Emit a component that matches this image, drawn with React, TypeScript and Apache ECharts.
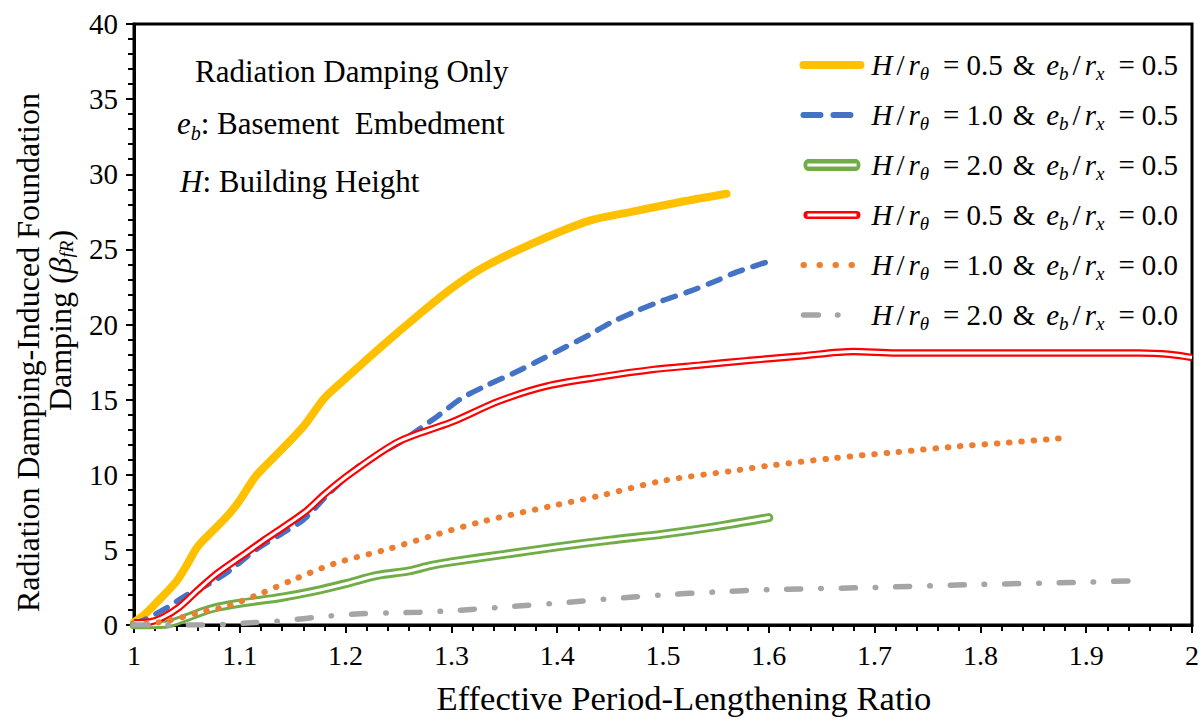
import React, { useEffect, useRef } from 'react';
import * as echarts from 'echarts';

// ---------- data ----------
const xTicks = [1, 1.1, 1.2, 1.3, 1.4, 1.5, 1.6, 1.7, 1.8, 1.9, 2];

const hVals = ['0.5', '1.0', '2.0', '0.5', '1.0', '2.0'];
const eVals = ['0.5', '0.5', '0.5', '0.0', '0.0', '0.0'];

// H/r = 0.5 & e/r = 0.5
const xA = [1.0, 1.01, 1.02, 1.04, 1.05, 1.06, 1.075, 1.09, 1.10, 1.115, 1.13, 1.16, 1.18, 1.20, 1.235, 1.27, 1.30, 1.33, 1.38, 1.43, 1.47, 1.52, 1.56];
const yA = [0.2, 0.7, 1.4, 2.9, 4.0, 5.2, 6.3, 7.4, 8.3, 9.9, 11.0, 13.2, 15.1, 16.4, 18.6, 20.7, 22.4, 23.8, 25.5, 26.9, 27.5, 28.2, 28.7];
// H/r = 1.0 & e/r = 0.5
const xB = [1.0, 1.01, 1.03, 1.05, 1.07, 1.09, 1.115, 1.14, 1.16, 1.185, 1.215, 1.25, 1.285, 1.31, 1.335, 1.36, 1.38, 1.405, 1.43, 1.45, 1.475, 1.50, 1.525, 1.55, 1.57, 1.60];
const yB = [0.1, 0.35, 1.1, 2.0, 2.7, 3.6, 5.0, 6.1, 7.0, 8.8, 10.7, 12.1, 13.8, 15.1, 16.0, 16.8, 17.5, 18.4, 19.3, 20.1, 20.9, 21.6, 22.2, 22.9, 23.5, 24.2];
// H/r = 2.0 & e/r = 0.5
const xC = [1.0, 1.03, 1.05, 1.065, 1.08, 1.10, 1.14, 1.17, 1.20, 1.23, 1.26, 1.28, 1.30, 1.35, 1.40, 1.45, 1.50, 1.55, 1.60];
const yC = [0.0, 0.05, 0.5, 0.9, 1.2, 1.45, 1.85, 2.25, 2.75, 3.3, 3.6, 3.95, 4.2, 4.7, 5.2, 5.65, 6.05, 6.55, 7.15];
// H/r = 0.5 & e/r = 0.0
const xD = [1.0, 1.015, 1.027, 1.043, 1.06, 1.078, 1.10, 1.122, 1.141, 1.163, 1.18, 1.205, 1.25, 1.30, 1.345, 1.39, 1.44, 1.49, 1.535, 1.58, 1.63, 1.68, 1.72, 1.80, 1.90, 1.95, 1.98, 2.0];
const yD = [0.15, 0.2, 0.5, 1.2, 2.3, 3.4, 4.5, 5.6, 6.5, 7.6, 8.7, 10.1, 12.2, 13.5, 14.9, 15.9, 16.5, 17.0, 17.3, 17.6, 17.9, 18.2, 18.1, 18.1, 18.1, 18.1, 18.0, 17.8];
// H/r = 1.0 & e/r = 0.0
const xE = [1.0, 1.03, 1.06, 1.09, 1.12, 1.15, 1.19, 1.24, 1.28, 1.33, 1.40, 1.44, 1.50, 1.57, 1.60, 1.66, 1.72, 1.78, 1.82, 1.88];
const yE = [0.0, 0.25, 0.8, 1.3, 2.1, 3.0, 4.1, 5.05, 5.9, 6.9, 8.0, 8.6, 9.6, 10.3, 10.6, 11.1, 11.5, 11.9, 12.1, 12.45];
// H/r = 2.0 & e/r = 0.0
const xF = [1.0, 1.05, 1.09, 1.11, 1.135, 1.185, 1.214, 1.24, 1.27, 1.30, 1.35, 1.40, 1.45, 1.50, 1.55, 1.60, 1.70, 1.80, 1.90, 1.946];
const yF = [0.0, 0.0, 0.05, 0.15, 0.25, 0.6, 0.75, 0.8, 0.85, 0.95, 1.2, 1.45, 1.75, 2.0, 2.2, 2.35, 2.5, 2.7, 2.85, 2.95];

const annotations = ['Radiation Damping Only', '{i|e}{sb|b}: Basement  Embedment', '{i|H}: Building Height'];

// ---------- helpers ----------
const SERIF = '"Liberation Serif", "Times New Roman", serif';
const zip = (xs: number[], ys: number[]) => xs.map((x, i) => [x, ys[i]]);
const names = hVals.map((h, i) => `H/rθ = ${h} & eb/rx = ${eVals[i]}`);
const richNames = hVals.map(
  (h, i) =>
    `{i|H}{s|/}{i|r}{sb|θ}{eq|=}{n|${h}}{amp|&}{i|e}{sb|b}{s|/}{i|r}{sb|x}{eq|=}{n|${eVals[i]}}`
);

const colors = ['#FFC000', '#4472C4', '#70AD47', '#FF0000', '#ED7D31', '#A5A5A5'];

const greenIcon =
  'path://M6,0 H51 A6,6 0 0 1 51,11 H6 A6,6 0 0 1 6,0 Z M6,4.2 V6.8 H51 V4.2 Z';
const redIcon =
  'path://M4,0 H53 A4,4 0 0 1 53,8 H4 A4,4 0 0 1 4,0 Z M4,2.6 V5.4 H53 V2.6 Z';

export default function App() {
  const ref = useRef<HTMLDivElement>(null);
  useEffect(() => {
    const chart = echarts.init(ref.current!, null, { renderer: 'svg' });
    const base = { type: 'line', showSymbol: false, symbol: 'none', smooth: 0.3, silent: true };
    const FS = 29;
    const hidden = { opacity: 0, color: 'rgba(0,0,0,0)', borderWidth: 0 };
    const option: any = {
      animation: false,
      backgroundColor: '#fff',
      grid: { left: 134, right: 11, top: 24, bottom: 92, show: true, borderColor: '#000', borderWidth: 3 },
      xAxis: {
        type: 'value',
        min: 1,
        max: 2,
        interval: 0.1,
        name: 'Effective Period-Lengthening Ratio',
        nameLocation: 'middle',
        nameGap: 55,
        nameTextStyle: { fontFamily: SERIF, fontSize: 34.6, color: '#000', padding: [0, 0, 0, 42] },
        axisLine: { lineStyle: { color: '#000', width: 3 } },
        axisTick: { length: 8, lineStyle: { color: '#000', width: 2 } },
        minorTick: { show: true, splitNumber: 5, length: 6, lineStyle: { color: '#000', width: 2 } },
        splitLine: { show: false },
        axisLabel: {
          fontFamily: SERIF,
          fontSize: 28,
          color: '#000',
          margin: 16,
          formatter: (v: number) => {
            const t = xTicks.find((k) => Math.abs(k - v) < 1e-6);
            return t === undefined ? '' : String(t);
          },
        },
      },
      yAxis: {
        type: 'value',
        min: 0,
        max: 40,
        interval: 5,
        name: 'Radiation Damping-Induced Foundation\n        Damping ({g|β}{gs|fR})',
        nameLocation: 'middle',
        nameRotate: 90,
        nameGap: 58,
        nameTextStyle: {
          fontFamily: SERIF,
          fontSize: 32,
          lineHeight: 32,
          color: '#000',
          align: 'center',
          padding: [0, 56, 0, 0],
          rich: {
            g: { fontFamily: SERIF, fontStyle: 'italic', fontSize: 32, lineHeight: 32 },
            gs: { fontFamily: SERIF, fontStyle: 'italic', fontSize: 19, verticalAlign: 'bottom', lineHeight: 20 },
          },
        },
        axisLine: { lineStyle: { color: '#000', width: 3 } },
        axisTick: { length: 8, lineStyle: { color: '#000', width: 2 } },
        minorTick: { show: true, splitNumber: 5, length: 6, lineStyle: { color: '#000', width: 2 } },
        splitLine: { show: false },
        axisLabel: { fontFamily: SERIF, fontSize: 29, color: '#000', margin: 16 },
      },
      legend: {
        orient: 'vertical',
        right: 20,
        top: 42,
        itemWidth: 57,
        itemHeight: 14,
        itemGap: 14,
        lineStyle: { width: 'inherit' },
        formatter: (name: string) => richNames[names.indexOf(name)] ?? name,
        textStyle: {
          fontFamily: SERIF,
          fontSize: FS,
          color: '#000',
          lineHeight: 36,
          padding: [0, 0, 0, 6],
          rich: {
            n: { fontFamily: SERIF, fontSize: FS, lineHeight: 36, color: '#000' },
            s: { fontFamily: SERIF, fontSize: FS, lineHeight: 36, color: '#000', padding: [0, 4, 0, 4] },
            eq: { fontFamily: SERIF, fontSize: FS, lineHeight: 36, color: '#000', padding: [0, 7, 0, 14] },
            amp: { fontFamily: SERIF, fontSize: FS, lineHeight: 36, color: '#000', padding: [0, 11, 0, 10] },
            i: { fontFamily: SERIF, fontStyle: 'italic', fontSize: FS, lineHeight: 36, color: '#000' },
            sb: { fontFamily: SERIF, fontStyle: 'italic', fontSize: 19, lineHeight: 18, verticalAlign: 'bottom', color: '#000' },
          },
        },
        data: [
          { name: names[0], icon: 'inherit', itemStyle: hidden, lineStyle: { width: 8, cap: 'round' } },
          { name: names[1], icon: 'inherit', itemStyle: hidden, lineStyle: { width: 6, type: [17, 13], cap: 'round' } },
          { name: names[2], icon: greenIcon, itemStyle: { color: colors[2], borderWidth: 0 } },
          { name: names[3], icon: redIcon, itemStyle: { color: colors[3], borderWidth: 0 } },
          { name: names[4], icon: 'inherit', itemStyle: hidden, lineStyle: { width: 6, type: [0.5, 15.5], cap: 'round' } },
          { name: names[5], icon: 'inherit', itemStyle: hidden, lineStyle: { width: 5.5, type: [15, 19, 0.5, 40], cap: 'round' } },
        ],
      },
      graphic: [
        {
          type: 'text',
          left: 195,
          top: 56,
          style: { text: annotations[0], fontFamily: SERIF, fontSize: 31, fill: '#000' },
        },
        {
          type: 'text',
          left: 177,
          top: 108,
          style: {
            text: annotations[1],
            fontFamily: SERIF,
            fontSize: 31,
            fill: '#000',
            rich: {
              i: { fontFamily: SERIF, fontStyle: 'italic', fontSize: 31, lineHeight: 38 },
              sb: { fontFamily: SERIF, fontStyle: 'italic', fontSize: 20, lineHeight: 20, verticalAlign: 'bottom' },
            },
          },
        },
        {
          type: 'text',
          left: 180,
          top: 166,
          style: {
            text: annotations[2],
            fontFamily: SERIF,
            fontSize: 31,
            fill: '#000',
            rich: { i: { fontFamily: SERIF, fontStyle: 'italic', fontSize: 31 } },
          },
        },
      ],
      series: [
        { ...base, name: names[0], data: zip(xA, yA), color: colors[0], lineStyle: { color: colors[0], width: 8, cap: 'round' } },
        { ...base, name: names[1], data: zip(xB, yB), color: colors[1], lineStyle: { color: colors[1], width: 5.5, type: [13, 11], cap: 'round' } },
        { ...base, name: names[2], data: zip(xC, yC), color: colors[2], lineStyle: { color: colors[2], width: 9, cap: 'round' } },
        { ...base, name: '_wg', data: zip(xC, yC), color: '#fff', lineStyle: { color: '#fff', width: 3.2, cap: 'round' } },
        { ...base, name: names[3], data: zip(xD, yD), color: colors[3], lineStyle: { color: colors[3], width: 7.4 } },
        { ...base, name: '_wr', data: zip(xD, yD), color: '#fff', lineStyle: { color: '#fff', width: 3 } },
        { ...base, name: names[4], data: zip(xE, yE), color: colors[4], lineStyle: { color: colors[4], width: 6, type: [0.5, 11.8], cap: 'round' } },
        { ...base, name: names[5], data: zip(xF, yF), color: colors[5], lineStyle: { color: colors[5], width: 5.5, type: [14, 20, 0.5, 20], cap: 'round' } },
      ],
    };
    chart.setOption(option);
    return () => chart.dispose();
  }, []);
  return (
    <div
      ref={ref}
      style={{ position: 'fixed', left: 0, top: 0, width: 1203, height: 720, background: '#fff' }}
    />
  );
}
